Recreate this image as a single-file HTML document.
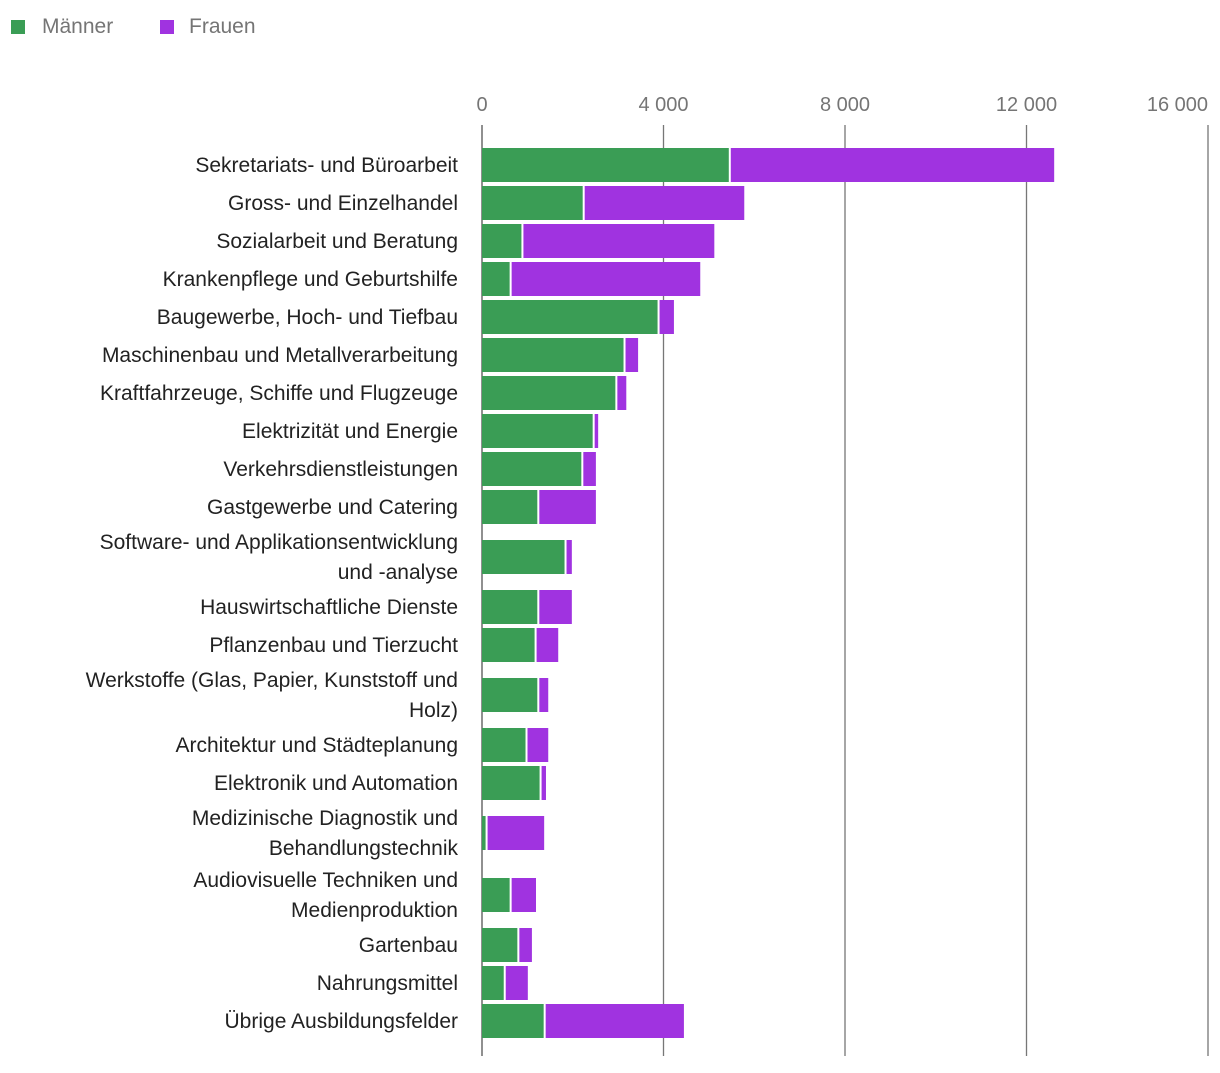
<!DOCTYPE html>
<html><head><meta charset="utf-8">
<style>
body{margin:0;background:#fff;font-family:"Liberation Sans",sans-serif;}
svg text{font-family:"Liberation Sans",sans-serif;}
</style></head><body>
<svg id="chart" width="1220" height="1068" xmlns="http://www.w3.org/2000/svg">
<g>
<rect x="11" y="20" width="14" height="14" fill="#3a9d55"/>
<text x="42" y="33" font-size="21" fill="#757575">Männer</text>
<rect x="160" y="20" width="14" height="14" fill="#a033e0"/>
<text x="189" y="33" font-size="21" fill="#757575">Frauen</text>
</g>
<g id="grid"></g><g id="bars"></g><g id="labels"></g>
</svg>
<script>
const categories=[["Sekretariats- und Büroarbeit"],["Gross- und Einzelhandel"],["Sozialarbeit und Beratung"],["Krankenpflege und Geburtshilfe"],["Baugewerbe, Hoch- und Tiefbau"],["Maschinenbau und Metallverarbeitung"],["Kraftfahrzeuge, Schiffe und Flugzeuge"],["Elektrizität und Energie"],["Verkehrsdienstleistungen"],["Gastgewerbe und Catering"],["Software- und Applikationsentwicklung","und -analyse"],["Hauswirtschaftliche Dienste"],["Pflanzenbau und Tierzucht"],["Werkstoffe (Glas, Papier, Kunststoff und","Holz)"],["Architektur und Städteplanung"],["Elektronik und Automation"],["Medizinische Diagnostik und","Behandlungstechnik"],["Audiovisuelle Techniken und","Medienproduktion"],["Gartenbau"],["Nahrungsmittel"],["Übrige Ausbildungsfelder"]];
const maenner=[5450,2230,880,620,3880,3130,2950,2450,2200,1230,1830,1230,1170,1230,970,1280,90,620,790,490,1370];
const frauen=[7160,3550,4240,4190,350,310,230,110,310,1280,150,750,510,230,490,130,1280,570,310,520,3080];
const ticks=[0,4000,8000,12000,16000];
const tickLabels=["0","4 000","8 000","12 000","16 000"];
const NS="http://www.w3.org/2000/svg";
const x0=482,x1=1208,maxV=16000;
function xs(v){return x0+v/maxV*(x1-x0);}
function mk(t,a,p){const e=document.createElementNS(NS,t);for(const k in a)e.setAttribute(k,a[k]);p.appendChild(e);return e;}
const grid=document.getElementById('grid'),bars=document.getElementById('bars'),labels=document.getElementById('labels');
ticks.forEach((t,i)=>{
 const l=mk('line',{x1:xs(t),x2:xs(t),y1:125,y2:1056,stroke:t===0?'#555':'#777','stroke-width':1.3},grid);
 
 
 const anchor=i===ticks.length-1?'end':'middle';
 const tx=mk('text',{x:xs(t),y:111,'font-size':20,fill:'#757575','text-anchor':anchor},grid);
 tx.textContent=tickLabels[i];
 
 
});
let y=146;
categories.forEach((c,i)=>{
 const h=c.length>1?62:38;
 const cy=y+h/2;y+=h;
 const bh=34,top=cy-bh/2;
 const m=mk('rect',{x:xs(0),y:top,width:xs(maenner[i])-xs(0),height:bh,fill:'#3a9d55'},bars);
 
 
 const f=mk('rect',{x:xs(maenner[i])+1,y:top,width:Math.max(0,xs(maenner[i]+frauen[i])-xs(maenner[i])-1),height:bh,fill:'#a033e0'},bars);
 
 
 mk('line',{x1:xs(maenner[i])+0.5,x2:xs(maenner[i])+0.5,y1:top,y2:top+bh,stroke:'#fff','stroke-width':2},bars);
 const t=mk('text',{x:458,'font-size':21,fill:'#222','text-anchor':'end'},labels);
 
 
 c.forEach((line,j)=>{const ts=mk('tspan',{x:458,y:cy+7+(j-(c.length-1)/2)*30},t);ts.textContent=line;});
});
</script>
</body></html>
